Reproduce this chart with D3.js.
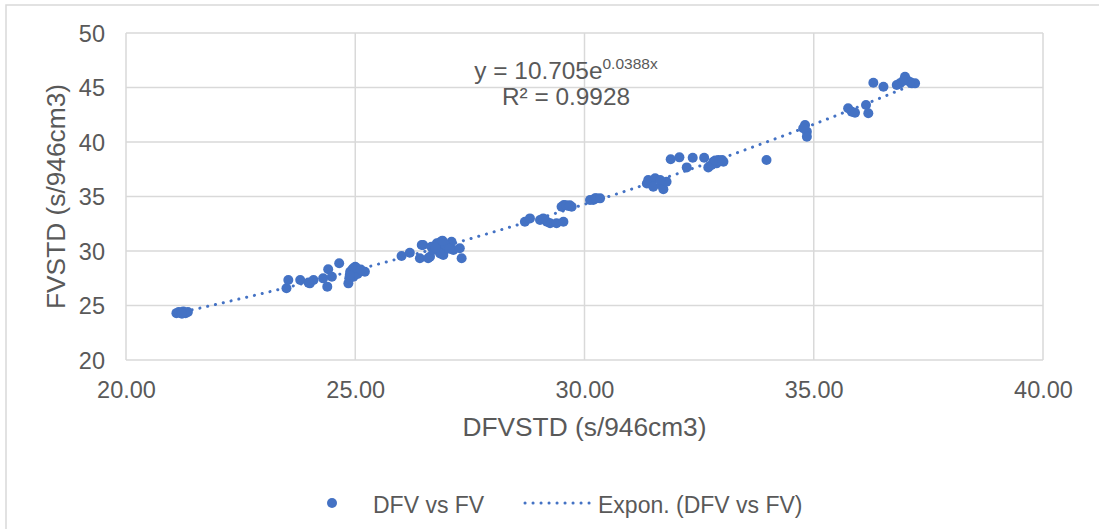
<!DOCTYPE html>
<html>
<head>
<meta charset="utf-8">
<script src="https://cdn.jsdelivr.net/npm/d3@7"></script>
<style>
  html, body { margin: 0; padding: 0; background: #fff; }
  svg { display: block; }
  text { font-family: "Liberation Sans", Arial, sans-serif; fill: #595959; }
</style>
</head>
<body>
<svg id="chart" width="1099" height="529"></svg>
<script>
// DFV vs FV measurements (s/946cm3)
const dfv = [
  21.10, 21.15, 21.20, 21.25, 21.30, 21.35, 21.22,
  23.50, 23.54, 23.80, 24.01, 24.09, 24.30, 24.41, 24.39, 24.49, 24.65,
  24.85, 24.89, 25.00, 24.96, 25.10, 25.21, 24.87, 23.98, 25.03,
  24.92, 25.05, 24.95, 25.12, 24.88,
  26.01, 26.19, 26.45, 26.41, 26.63, 26.78, 26.89, 26.92, 27.10, 27.14,
  27.32, 27.28, 26.70, 26.99, 26.48, 26.59, 26.85, 27.03, 26.66,
  26.85, 26.95, 27.05, 26.75, 26.90,
  28.70, 28.81, 29.03, 29.18, 29.25, 29.39, 29.54, 29.10,
  29.55, 29.65, 29.72, 29.50, 29.60, 29.68,
  30.12, 30.19, 30.23, 30.26, 30.34,
  31.36, 31.39, 31.54, 31.50, 31.68, 31.72, 31.79, 31.65,
  31.88, 32.07, 32.23, 32.36, 32.61, 32.70, 32.81, 32.92, 33.03, 32.88, 32.77,
  32.85, 32.95, 33.00,
  33.97,
  34.81, 34.85, 34.85, 34.77,
  35.75, 35.83, 35.90, 36.14, 36.19,
  36.30, 36.52, 36.81, 36.99, 36.88, 37.14, 37.21, 37.03, 37.10, 36.95
];
const fv = [
  24.30, 24.40, 24.35, 24.45, 24.30, 24.40, 24.25,
  26.58, 27.34, 27.34, 27.03, 27.34, 27.49, 28.32, 26.73, 27.64, 28.87,
  27.03, 28.10, 28.56, 27.64, 28.26, 28.10, 27.49, 27.10, 28.41,
  28.20, 27.90, 28.40, 28.30, 27.80,
  29.54, 29.84, 30.55, 29.33, 29.48, 30.70, 30.09, 29.63, 30.85, 30.09,
  29.33, 30.25, 30.09, 30.39, 30.55, 29.33, 29.78, 30.55, 30.39,
  30.80, 30.60, 30.20, 30.30, 30.95,
  32.69, 32.99, 32.84, 32.69, 32.54, 32.54, 32.69, 32.99,
  34.22, 34.13, 34.06, 34.06, 34.20, 34.20,
  34.68, 34.68, 34.83, 34.83, 34.83,
  36.20, 36.51, 36.67, 35.90, 36.06, 35.66, 36.36, 36.51,
  38.41, 38.59, 37.67, 38.56, 38.56, 37.67, 38.19, 38.35, 38.19, 38.04, 37.89,
  38.30, 38.25, 38.35,
  38.35,
  41.56, 40.95, 40.49, 41.26,
  43.09, 42.78, 42.69, 43.39, 42.63,
  45.44, 45.07, 45.23, 45.99, 45.38, 45.38, 45.38, 45.69, 45.50, 45.60
];

// Axis ticks
const xTicks = [20, 25, 30, 35, 40];
const yTicks = [20, 25, 30, 35, 40, 45, 50];

// Exponential trend fit y = a * e^(b x)
const fitA = 10.705;
const fitB = 0.0388;
const fitR2 = "0.9928";

const blue = "#4472C4";
const grid = "#d9d9d9";

const svg = d3.select("#chart");

// Chart frame
svg.append("rect")
  .attr("x", 6).attr("y", 5)
  .attr("width", 1110).attr("height", 540)
  .attr("fill", "#fff")
  .attr("stroke", grid).attr("stroke-width", 1.5);

const plot = { left: 126, right: 1043, top: 33, bottom: 360 };

const x = d3.scaleLinear().domain([20, 40]).range([plot.left, plot.right]);
const y = d3.scaleLinear().domain([20, 50]).range([plot.bottom, plot.top]);

// Gridlines
const gridG = svg.append("g");
gridG.selectAll("line.v").data(xTicks).join("line")
  .attr("x1", d => x(d)).attr("x2", d => x(d))
  .attr("y1", plot.top).attr("y2", plot.bottom)
  .attr("stroke", grid).attr("stroke-width", 1.5);
gridG.selectAll("line.h").data(yTicks).join("line")
  .attr("x1", plot.left).attr("x2", plot.right)
  .attr("y1", d => y(d)).attr("y2", d => y(d))
  .attr("stroke", grid).attr("stroke-width", 1.5);

// Axes (labels only)
const xAxis = svg.append("g")
  .attr("transform", `translate(0,${plot.bottom})`)
  .call(d3.axisBottom(x).tickValues(xTicks).tickFormat(d3.format(".2f")).tickSize(0).tickPadding(0));
xAxis.select(".domain").remove();
xAxis.selectAll("text")
  .attr("y", 38).attr("dy", null)
  .attr("font-size", 23.5)
  .attr("font-family", "'Liberation Sans', Arial, sans-serif")
  .attr("fill", "#595959");

const yAxis = svg.append("g")
  .attr("transform", `translate(${plot.left},0)`)
  .call(d3.axisLeft(y).tickValues(yTicks).tickFormat(d3.format("d")).tickSize(0).tickPadding(21));
yAxis.select(".domain").remove();
yAxis.selectAll("text")
  .attr("dy", "0.36em")
  .attr("font-size", 23.5)
  .attr("font-family", "'Liberation Sans', Arial, sans-serif")
  .attr("fill", "#595959");

// Axis titles
svg.append("text")
  .attr("x", (plot.left + plot.right) / 2).attr("y", 436)
  .attr("text-anchor", "middle")
  .attr("font-size", 26.3)
  .text("DFVSTD (s/946cm3)");

svg.append("text")
  .attr("transform", `translate(65,${(plot.top + plot.bottom) / 2}) rotate(-90)`)
  .attr("text-anchor", "middle")
  .attr("font-size", 26.3)
  .text("FVSTD (s/946cm3)");

// Trendline
const xMin = d3.min(dfv), xMax = d3.max(dfv);
const trendPts = d3.range(0, 101).map(i => {
  const xv = xMin + (xMax - xMin) * i / 100;
  return [xv, fitA * Math.exp(fitB * xv)];
});
svg.append("path")
  .datum(trendPts)
  .attr("d", d3.line().x(d => x(d[0])).y(d => y(d[1])))
  .attr("fill", "none")
  .attr("stroke", blue)
  .attr("stroke-width", 3)
  .attr("stroke-linecap", "round")
  .attr("stroke-dasharray", "0.1 7.9");

// Scatter points
svg.append("g").selectAll("circle")
  .data(dfv.map((d, i) => [d, fv[i]]))
  .join("circle")
  .attr("cx", d => x(d[0]))
  .attr("cy", d => y(d[1]))
  .attr("r", 5)
  .attr("fill", blue);

// Trendline equation
const eq = svg.append("text")
  .attr("x", 566).attr("y", 79)
  .attr("text-anchor", "middle")
  .attr("font-size", 24.4);
eq.append("tspan").text(`y = ${fitA}e`);
eq.append("tspan").attr("dy", -10).attr("font-size", 15.5).text(`${fitB}x`);

svg.append("text")
  .attr("x", 566).attr("y", 105)
  .attr("text-anchor", "middle")
  .attr("font-size", 24.4)
  .text(`R² = ${fitR2}`);

// Legend
const lg = svg.append("g");
lg.append("circle").attr("cx", 332).attr("cy", 503).attr("r", 5).attr("fill", blue);
lg.append("text").attr("x", 373).attr("y", 513).attr("font-size", 23).text("DFV vs FV");
lg.append("line")
  .attr("x1", 525).attr("x2", 592).attr("y1", 503).attr("y2", 503)
  .attr("stroke", blue).attr("stroke-width", 3)
  .attr("stroke-linecap", "round").attr("stroke-dasharray", "0.1 7.9");
lg.append("text").attr("x", 598).attr("y", 513).attr("font-size", 23).text("Expon. (DFV vs FV)");
</script>
</body>
</html>
